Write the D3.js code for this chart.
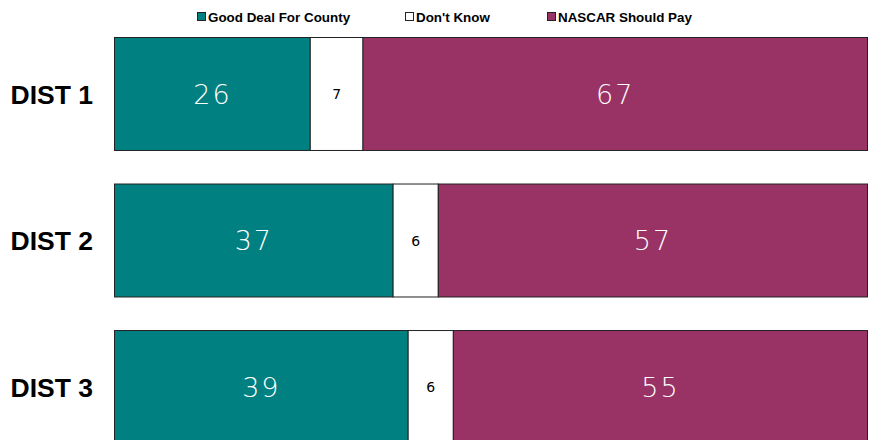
<!DOCTYPE html>
<html>
<head>
<meta charset="utf-8">
<script src="https://cdn.jsdelivr.net/npm/d3@7"></script>
<style>
  body { margin: 0; background: #fff; }
  svg { display: block; }
</style>
</head>
<body>
<div id="container"></div>
<script>
const categories = ["DIST 1", "DIST 2", "DIST 3"];
const seriesNames = ["Good Deal For County", "Don't Know", "NASCAR Should Pay"];
const goodDeal = [26, 37, 39];
const dontKnow = [7, 6, 6];
const nascarPay = [67, 57, 55];

const width = 870;
const height = 440;
const colors = ["#008080", "#ffffff", "#993366"];
const textColors = ["#ffffff", "#000000", "#ffffff"];

const rows = categories.map((c, i) => ({
  cat: c,
  [seriesNames[0]]: goodDeal[i],
  [seriesNames[1]]: dontKnow[i],
  [seriesNames[2]]: nascarPay[i]
}));

const stack = d3.stack().keys(seriesNames);
const series = stack(rows);

const x = d3.scaleLinear().domain([0, 100]).range([114.5, 867.5]);
const y = d3.scaleBand().domain(categories).range([37.5, 443.5])
  .paddingInner(0.229).paddingOuter(0);

const svg = d3.select("#container").append("svg")
  .attr("width", width)
  .attr("height", height);

// bars
const groups = svg.selectAll("g.series")
  .data(series)
  .enter()
  .append("g")
  .attr("class", "series");

groups.selectAll("rect")
  .data((s, si) => s.map(d => ({ d, si })))
  .enter()
  .append("rect")
  .attr("x", o => x(o.d[0]))
  .attr("y", o => y(o.d.data.cat))
  .attr("width", o => x(o.d[1]) - x(o.d[0]))
  .attr("height", y.bandwidth())
  .attr("fill", o => colors[o.si])
  .attr("stroke", "#222")
  .attr("stroke-width", 1);

// value labels
groups.selectAll("text")
  .data((s, si) => s.map(d => ({ d, si })))
  .enter()
  .append("text")
  .attr("x", o => (x(o.d[0]) + x(o.d[1])) / 2)
  .attr("y", o => y(o.d.data.cat) + y.bandwidth() / 2)
  .attr("dy", "0.36em")
  .attr("text-anchor", "middle")
  .attr("font-family", "'DejaVu Sans', sans-serif")
  .attr("font-weight", o => o.si === 1 ? 400 : 300)
  .attr("font-size", o => o.si === 1 ? 14 : 27)
  .attr("letter-spacing", o => o.si === 1 ? 0 : 2)
  .attr("fill", o => textColors[o.si])
  .text(o => o.d[1] - o.d[0]);

// category labels
svg.selectAll("text.cat")
  .data(categories)
  .enter()
  .append("text")
  .attr("class", "cat")
  .attr("x", 93)
  .attr("y", d => y(d) + y.bandwidth() / 2)
  .attr("dy", "0.36em")
  .attr("text-anchor", "end")
  .attr("font-family", "'Liberation Sans', Arial, sans-serif")
  .attr("font-weight", "bold")
  .attr("font-size", 26.5)
  .text(d => d);

// legend
const legendX = [197, 405, 547];
const legend = svg.selectAll("g.legend")
  .data(seriesNames)
  .enter()
  .append("g")
  .attr("class", "legend")
  .attr("transform", (d, i) => `translate(${legendX[i]}, 17)`);

legend.append("rect")
  .attr("x", 0.5)
  .attr("y", -4.5)
  .attr("width", 8)
  .attr("height", 8)
  .attr("fill", (d, i) => colors[i])
  .attr("stroke", "#222")
  .attr("stroke-width", 1);

legend.append("text")
  .attr("x", 11)
  .attr("y", 0)
  .attr("dy", "0.36em")
  .attr("font-family", "'Liberation Sans', Arial, sans-serif")
  .attr("font-weight", "bold")
  .attr("font-size", 13.4)
  .text(d => d);
</script>
</body>
</html>
